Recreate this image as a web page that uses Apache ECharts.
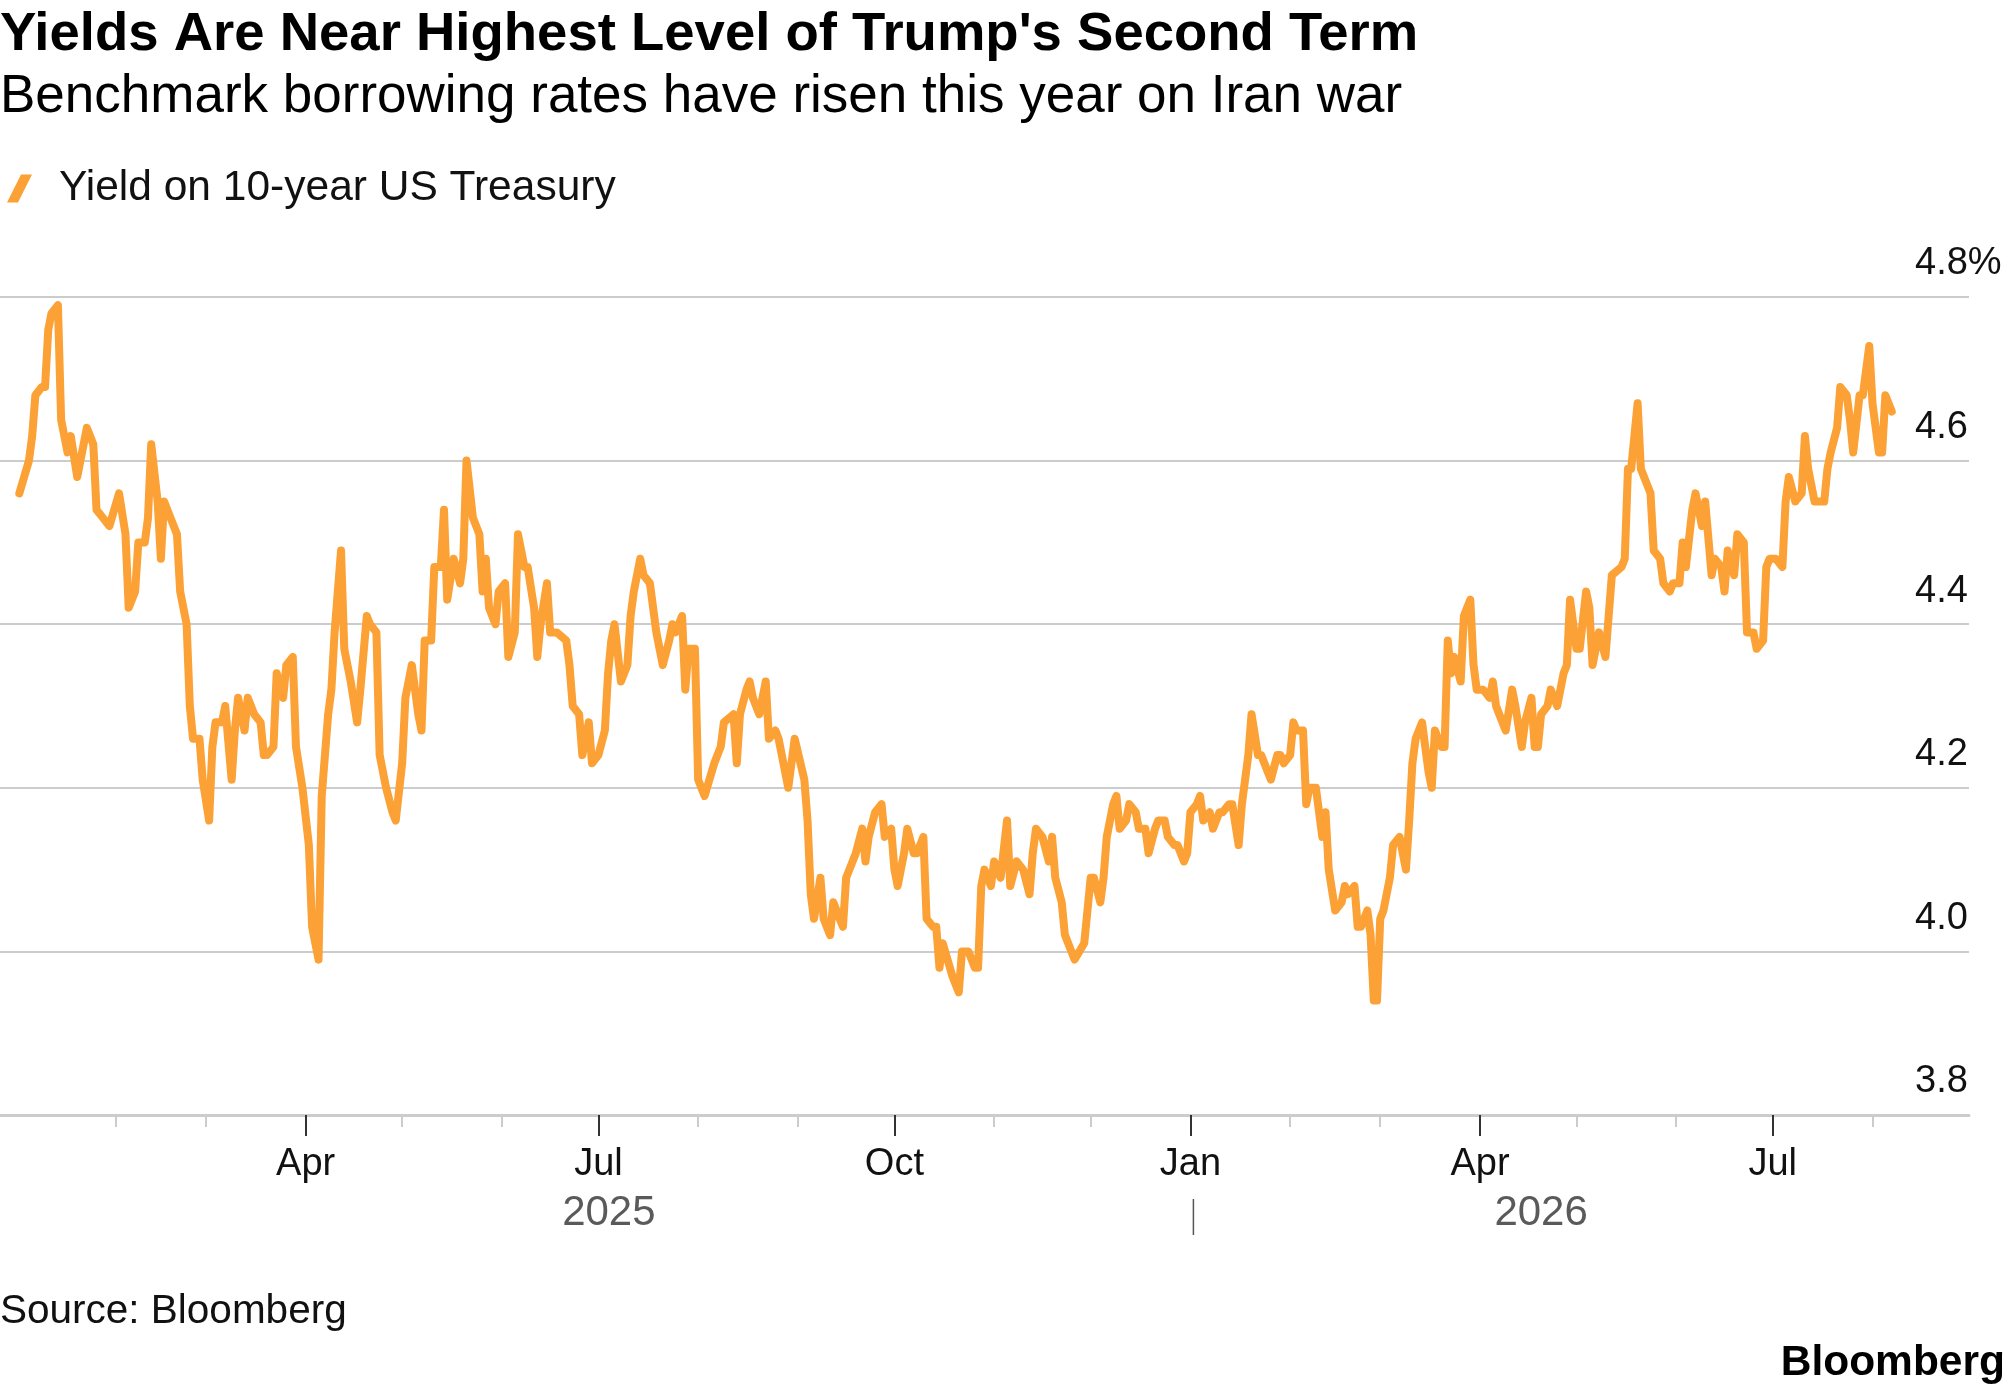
<!DOCTYPE html>
<html>
<head>
<meta charset="utf-8">
<title>Yields Are Near Highest Level of Trump's Second Term</title>
<script src="https://cdn.jsdelivr.net/npm/echarts@6/dist/echarts.min.js"></script>
<style>
  html, body { margin: 0; padding: 0; background: #fff; }
  #chart { width: 2005px; height: 1392px; }
</style>
</head>
<body>
<div id="chart"></div>
<script>
// 10-year Treasury yield
const dates = [
  '2025-01-02','2025-01-05','2025-01-06','2025-01-07','2025-01-09','2025-01-10','2025-01-11','2025-01-12','2025-01-14','2025-01-15','2025-01-17','2025-01-18','2025-01-20','2025-01-23','2025-01-25','2025-01-26','2025-01-28','2025-01-30',
  '2025-02-02','2025-02-04','2025-02-05','2025-02-07','2025-02-08','2025-02-10','2025-02-11','2025-02-12','2025-02-14','2025-02-15','2025-02-16','2025-02-18','2025-02-20','2025-02-21','2025-02-23','2025-02-24','2025-02-25','2025-02-27','2025-02-28',
  '2025-03-02','2025-03-03','2025-03-04','2025-03-06','2025-03-07','2025-03-09','2025-03-10','2025-03-11','2025-03-13','2025-03-14','2025-03-16','2025-03-18','2025-03-19','2025-03-20','2025-03-22','2025-03-23','2025-03-25','2025-03-26','2025-03-28','2025-03-29','2025-03-31',
  '2025-04-02','2025-04-03','2025-04-05','2025-04-06','2025-04-08','2025-04-09','2025-04-10','2025-04-12','2025-04-13','2025-04-15','2025-04-17','2025-04-18','2025-04-20','2025-04-21','2025-04-23','2025-04-24','2025-04-26','2025-04-28','2025-04-29',
  '2025-05-01','2025-05-02','2025-05-04','2025-05-06','2025-05-07','2025-05-08','2025-05-10','2025-05-11','2025-05-13','2025-05-14','2025-05-15','2025-05-17','2025-05-19','2025-05-20','2025-05-21','2025-05-23','2025-05-25','2025-05-26','2025-05-27','2025-05-28','2025-05-30','2025-05-31',
  '2025-06-02','2025-06-03','2025-06-05','2025-06-06','2025-06-08','2025-06-09','2025-06-11','2025-06-12','2025-06-13','2025-06-15','2025-06-16','2025-06-18','2025-06-21','2025-06-22','2025-06-23','2025-06-25','2025-06-26','2025-06-28','2025-06-29',
  '2025-07-01','2025-07-03','2025-07-04','2025-07-05','2025-07-06','2025-07-08','2025-07-10','2025-07-11','2025-07-12','2025-07-14','2025-07-15','2025-07-17','2025-07-19','2025-07-21','2025-07-23','2025-07-24','2025-07-25','2025-07-27','2025-07-28','2025-07-29','2025-07-31',
  '2025-08-01','2025-08-03','2025-08-06','2025-08-08','2025-08-09','2025-08-12','2025-08-13','2025-08-14','2025-08-16','2025-08-17','2025-08-18','2025-08-20','2025-08-22','2025-08-23','2025-08-25','2025-08-26','2025-08-29','2025-08-31',
  '2025-09-03','2025-09-04','2025-09-05','2025-09-06','2025-09-08','2025-09-09','2025-09-11','2025-09-12','2025-09-14','2025-09-15','2025-09-16','2025-09-17','2025-09-19','2025-09-21','2025-09-22','2025-09-23','2025-09-25','2025-09-27','2025-09-28','2025-09-30',
  '2025-10-01','2025-10-02','2025-10-04','2025-10-05','2025-10-07','2025-10-08','2025-10-10','2025-10-11','2025-10-13','2025-10-14','2025-10-15','2025-10-16','2025-10-19','2025-10-21','2025-10-22','2025-10-24','2025-10-26','2025-10-27','2025-10-28','2025-10-29','2025-10-31',
  '2025-11-01','2025-11-03','2025-11-05','2025-11-06','2025-11-08','2025-11-10','2025-11-12','2025-11-13','2025-11-14','2025-11-16','2025-11-18','2025-11-19','2025-11-20','2025-11-22','2025-11-23','2025-11-25','2025-11-26','2025-11-29',
  '2025-12-01','2025-12-02','2025-12-04','2025-12-05','2025-12-06','2025-12-08','2025-12-09','2025-12-10','2025-12-12','2025-12-13','2025-12-15','2025-12-16','2025-12-18','2025-12-19','2025-12-21','2025-12-22','2025-12-24','2025-12-25','2025-12-27','2025-12-28','2025-12-30','2025-12-31',
  '2026-01-01','2026-01-03','2026-01-04','2026-01-05','2026-01-07','2026-01-08','2026-01-10','2026-01-11','2026-01-13','2026-01-14','2026-01-16','2026-01-17','2026-01-19','2026-01-20','2026-01-22','2026-01-23','2026-01-25','2026-01-26','2026-01-28','2026-01-29','2026-01-30',
  '2026-02-01','2026-02-02','2026-02-03','2026-02-05','2026-02-06','2026-02-07','2026-02-09','2026-02-11','2026-02-12','2026-02-13','2026-02-15','2026-02-17','2026-02-18','2026-02-19','2026-02-21','2026-02-22','2026-02-23','2026-02-25','2026-02-26','2026-02-27','2026-02-28',
  '2026-03-01','2026-03-02','2026-03-04','2026-03-05','2026-03-07','2026-03-09','2026-03-10','2026-03-11','2026-03-12','2026-03-14','2026-03-16','2026-03-17','2026-03-18','2026-03-20','2026-03-21','2026-03-22','2026-03-23','2026-03-24','2026-03-26','2026-03-27','2026-03-29','2026-03-30','2026-03-31',
  '2026-04-02','2026-04-04','2026-04-05','2026-04-06','2026-04-07','2026-04-09','2026-04-11','2026-04-12','2026-04-14','2026-04-15','2026-04-17','2026-04-18','2026-04-19','2026-04-20','2026-04-22','2026-04-23','2026-04-25','2026-04-27','2026-04-28','2026-04-29',
  '2026-05-01','2026-05-02','2026-05-04','2026-05-05','2026-05-06','2026-05-08','2026-05-10','2026-05-11','2026-05-12','2026-05-15','2026-05-16','2026-05-17','2026-05-18','2026-05-20','2026-05-21','2026-05-23','2026-05-24','2026-05-25','2026-05-27','2026-05-28','2026-05-30','2026-05-31',
  '2026-06-02','2026-06-03','2026-06-04','2026-06-06','2026-06-07','2026-06-09','2026-06-10','2026-06-12','2026-06-13','2026-06-15','2026-06-16','2026-06-17','2026-06-19','2026-06-20','2026-06-22','2026-06-23','2026-06-25','2026-06-26','2026-06-28','2026-06-29','2026-06-30',
  '2026-07-02','2026-07-04','2026-07-05','2026-07-06','2026-07-08','2026-07-10','2026-07-11','2026-07-12','2026-07-14','2026-07-15','2026-07-17','2026-07-18','2026-07-19','2026-07-21','2026-07-22','2026-07-24','2026-07-25','2026-07-26','2026-07-28','2026-07-29','2026-07-31',
  '2026-08-01','2026-08-03','2026-08-04','2026-08-05','2026-08-07'
];

const yields = [
  4.56,4.60,4.63,4.68,4.69,4.69,4.76,4.78,4.79,4.65,4.61,4.63,4.58,4.64,4.62,4.54,4.53,4.52,
  4.56,4.51,4.42,4.44,4.50,4.50,4.53,4.62,4.55,4.48,4.55,4.53,4.51,4.44,4.40,4.30,4.26,4.26,4.21,
  4.16,4.25,4.28,4.28,4.30,4.21,4.27,4.31,4.27,4.31,4.29,4.28,4.24,4.24,4.25,4.34,4.31,4.35,4.36,4.25,4.20,
  4.13,4.03,3.99,4.19,4.29,4.32,4.39,4.49,4.37,4.33,4.28,4.32,4.41,4.40,4.39,4.24,4.20,4.17,4.16,
  4.23,4.31,4.35,4.29,4.27,4.38,4.38,4.47,4.47,4.54,4.43,4.48,4.45,4.48,4.60,4.53,4.51,4.44,4.48,4.42,4.40,4.44,
  4.45,4.36,4.39,4.51,4.47,4.47,4.42,4.36,4.40,4.45,4.39,4.39,4.38,4.35,4.30,4.29,4.24,4.28,4.23,
  4.24,4.27,4.34,4.38,4.40,4.33,4.35,4.41,4.44,4.48,4.46,4.45,4.39,4.35,4.38,4.40,4.39,4.41,4.32,4.37,4.37,
  4.21,4.19,4.23,4.25,4.28,4.29,4.23,4.29,4.32,4.33,4.31,4.29,4.33,4.26,4.27,4.26,4.20,4.26,
  4.21,4.16,4.07,4.04,4.09,4.04,4.02,4.06,4.04,4.03,4.09,4.10,4.12,4.15,4.11,4.14,4.17,4.18,4.14,4.15,
  4.10,4.08,4.12,4.15,4.12,4.12,4.14,4.04,4.03,4.03,3.98,4.01,3.97,3.95,4.00,4.00,3.98,3.98,4.08,4.10,4.08,
  4.11,4.09,4.16,4.08,4.11,4.10,4.07,4.12,4.15,4.14,4.11,4.14,4.09,4.06,4.02,4.00,3.99,4.01,
  4.09,4.09,4.06,4.09,4.14,4.18,4.19,4.15,4.16,4.18,4.17,4.15,4.15,4.12,4.15,4.16,4.16,4.14,4.13,4.13,4.11,4.12,
  4.17,4.18,4.19,4.16,4.17,4.15,4.17,4.17,4.18,4.18,4.13,4.18,4.24,4.29,4.24,4.24,4.22,4.21,4.24,4.24,4.23,
  4.24,4.28,4.27,4.27,4.18,4.20,4.20,4.14,4.17,4.10,4.05,4.06,4.08,4.07,4.08,4.03,4.03,4.05,4.02,3.94,3.94,
  4.04,4.05,4.09,4.13,4.14,4.10,4.16,4.23,4.26,4.28,4.22,4.20,4.27,4.25,4.25,4.38,4.34,4.36,4.33,4.41,4.43,4.35,4.32,
  4.32,4.31,4.33,4.30,4.29,4.27,4.32,4.30,4.25,4.28,4.31,4.25,4.25,4.29,4.30,4.32,4.30,4.34,4.35,4.43,
  4.37,4.37,4.44,4.42,4.35,4.39,4.36,4.41,4.46,4.47,4.48,4.59,4.59,4.67,4.59,4.57,4.56,4.49,4.48,4.45,4.44,4.45,
  4.45,4.50,4.47,4.54,4.56,4.52,4.55,4.46,4.48,4.47,4.44,4.49,4.46,4.51,4.50,4.39,4.39,4.37,4.38,4.47,4.48,
  4.48,4.47,4.55,4.58,4.55,4.56,4.63,4.59,4.55,4.55,4.55,4.59,4.61,4.64,4.69,4.68,4.65,4.61,4.68,4.68,4.74,
  4.67,4.61,4.61,4.68,4.66
];

// month ticks along the date axis, quarters get a label
const monthTicks = [
  '2025-02-01','2025-03-01','2025-04-01','2025-05-01','2025-06-01','2025-07-01','2025-08-01','2025-09-01','2025-10-01','2025-11-01','2025-12-01',
  '2026-01-01','2026-02-01','2026-03-01','2026-04-01','2026-05-01','2026-06-01','2026-07-01','2026-08-01'
];
const labelTicks = ['2025-04-01','2025-07-01','2025-10-01','2026-01-01','2026-04-01','2026-07-01'];
const monthNames = ['Jan','Feb','Mar','Apr','May','Jun','Jul','Aug','Sep','Oct','Nov','Dec'];
const yearLabels = ['2025', '2026'];
const yearBreak = '2026-01-01';

const seriesName = 'Yield on 10-year US Treasury';
const ORANGE = '#fba135';
const FONT = '"Liberation Sans", Arial, sans-serif';

// dates -> local timestamps, used on a plain value axis
function toTime(s) {
  const p = s.split('-');
  return new Date(+p[0], +p[1] - 1, +p[2]).getTime();
}

const xMin = toTime('2024-12-27');
const xMax = toTime('2026-08-31');

const chart = echarts.init(document.getElementById('chart'), null, { renderer: 'canvas' });

const option = {
  animation: false,
  backgroundColor: '#fff',
  textStyle: { fontFamily: FONT },
  grid: { left: 0, right: 36, top: 297, bottom: 277, containLabel: false, outerBoundsMode: 'none' },
  legend: {
    left: 2,
    top: 162,
    icon: 'path://M14,0 L25,0 L11,28 L0,28 Z',
    itemWidth: 25,
    itemHeight: 28,
    selectedMode: false,
    textStyle: { fontSize: 42.5, color: '#111', fontFamily: FONT, padding: [0, 0, 0, 22] },
    data: [seriesName]
  },
  xAxis: [
    {
      type: 'value',
      min: xMin,
      max: xMax,
      axisLine: { show: true, lineStyle: { color: '#cccccc', width: 3 } },
      axisTick: {
        show: true,
        length: 12,
        lineStyle: { color: '#cccccc', width: 2 },
        customValues: monthTicks.map(toTime)
      },
      axisLabel: { show: false },
      splitLine: { show: false }
    },
    {
      type: 'value',
      min: xMin,
      max: xMax,
      position: 'bottom',
      axisLine: { show: false },
      axisTick: {
        show: true,
        length: 21,
        lineStyle: { color: '#333333', width: 2 },
        customValues: labelTicks.map(toTime)
      },
      axisLabel: {
        show: true,
        customValues: labelTicks.map(toTime),
        formatter: v => monthNames[new Date(v).getMonth()],
        fontSize: 38,
        color: '#111',
        fontFamily: FONT,
        margin: 31
      },
      splitLine: { show: false }
    }
  ],
  yAxis: {
    type: 'value',
    position: 'right',
    min: 3.8,
    max: 4.8,
    interval: 0.2,
    axisLine: { show: false },
    axisTick: { show: false },
    splitLine: { show: true, lineStyle: { color: '#cccccc', width: 2 } },
    axisLabel: {
      inside: true,
      align: 'left',
      verticalAlign: 'bottom',
      margin: 54,
      padding: [0, 0, 14, 0],
      fontSize: 38,
      color: '#111',
      fontFamily: FONT,
      formatter: v => (Math.abs(v - 4.8) < 1e-6 ? v.toFixed(1) + '%' : v.toFixed(1))
    }
  },
  series: [
    {
      name: seriesName,
      type: 'line',
      xAxisIndex: 0,
      showSymbol: false,
      symbol: 'none',
      color: ORANGE,
      lineStyle: { color: ORANGE, width: 8, join: 'round', cap: 'round' },
      data: dates.map((d, i) => [toTime(d), yields[i]])
    }
  ],
  graphic: [
    {
      type: 'text', id: 'title', left: 0, top: 7,
      style: { text: "Yields Are Near Highest Level of Trump's Second Term", font: 'bold 54.5px ' + FONT, fill: '#000' }
    },
    {
      type: 'text', id: 'subtitle', left: 0, top: 71,
      style: { text: 'Benchmark borrowing rates have risen this year on Iran war', font: '53px ' + FONT, fill: '#000' }
    },
    {
      type: 'text', id: 'source', left: 0, top: 1291,
      style: { text: 'Source: Bloomberg', font: '40.5px ' + FONT, fill: '#111' }
    },
    {
      type: 'text', id: 'logo', right: 0, top: 1342,
      style: { text: 'Bloomberg', font: 'bold 42.5px ' + FONT, fill: '#000' }
    }
  ]
};

chart.setOption(option);

// year labels sit under the month labels, centred on each year's stretch of data
const firstX = chart.convertToPixel({ xAxisIndex: 0 }, toTime(dates[0]));
const breakX = chart.convertToPixel({ xAxisIndex: 0 }, toTime(yearBreak));
const lastX = chart.convertToPixel({ xAxisIndex: 0 }, toTime(dates[dates.length - 1]));

chart.setOption({
  graphic: [
    {
      type: 'text', id: 'year0', x: (firstX + breakX) / 2 + 4, y: 1213,
      style: { text: yearLabels[0], font: '42px ' + FONT, fill: '#5a5a5a', align: 'center', verticalAlign: 'middle' }
    },
    {
      type: 'text', id: 'year1', x: (breakX + lastX) / 2, y: 1213,
      style: { text: yearLabels[1], font: '42px ' + FONT, fill: '#5a5a5a', align: 'center', verticalAlign: 'middle' }
    },
    {
      type: 'line', id: 'yearSep',
      shape: { x1: breakX + 3, y1: 1199, x2: breakX + 3, y2: 1235 },
      style: { stroke: '#555555', lineWidth: 1.5 }
    }
  ]
});
</script>
</body>
</html>
